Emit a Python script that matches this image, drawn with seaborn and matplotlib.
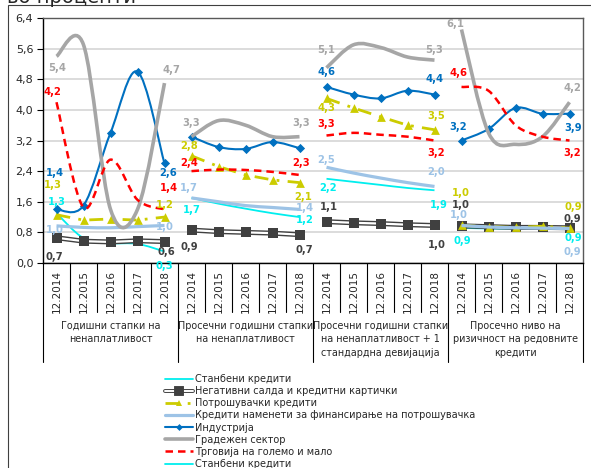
import numpy as np
import matplotlib
matplotlib.use("Agg")
import matplotlib.pyplot as plt
import matplotlib.patheffects as pe
import matplotlib.transforms as mtransforms
from matplotlib.path import Path
from matplotlib.patches import PathPatch, Rectangle
from matplotlib.lines import Line2D
import seaborn as sns

# --- data ---
years = ["12.2014", "12.2015", "12.2016", "12.2017", "12.2018"]
groups = ["Годишни стапки на\nненаплатливост",
          "Просечни годишни стапки\nна ненаплатливост",
          "Просечни годишни стапки\nна ненаплатливост + 1\nстандардна девијација",
          "Просечно ниво на\nризичност на редовните\nкредити"]

housing = [1.3, 0.65, 0.52, 0.5, 0.3,
           1.7, 1.55, 1.42, 1.3, 1.2,
           2.2, 2.12, 2.04, 1.96, 1.9,
           0.92, 0.9, 0.9, 0.9, 0.9]
negative = [0.66, 0.57, 0.55, 0.58, 0.56,
            0.86, 0.82, 0.8, 0.78, 0.74,
            1.08, 1.05, 1.03, 1.0, 0.98,
            0.97, 0.95, 0.93, 0.93, 0.92]
consumer = [1.26, 1.12, 1.15, 1.12, 1.2,
            2.8, 2.52, 2.3, 2.17, 2.1,
            4.3, 4.05, 3.82, 3.6, 3.48,
            0.98, 0.95, 0.93, 0.96, 0.91]
fin_consumer = [0.97, 0.93, 0.92, 0.95, 0.98,
                1.7, 1.6, 1.5, 1.45, 1.4,
                2.5, 2.35, 2.22, 2.1, 2.0,
                0.98, 0.94, 0.92, 0.91, 0.9]
industry = [1.4, 1.5, 3.4, 5.0, 2.6,
            3.3, 3.03, 2.98, 3.16, 3.0,
            4.6, 4.4, 4.3, 4.5, 4.4,
            3.2, 3.5, 4.05, 3.9, 3.9]
construction = [5.4, 5.7, 1.4, 1.4, 4.7,
                3.3, 3.72, 3.6, 3.3, 3.3,
                5.1, 5.7, 5.63, 5.38, 5.3,
                6.1, 3.4, 3.1, 3.3, 4.2]
trade = [4.2, 1.45, 2.7, 1.65, 1.4,
         2.4, 2.44, 2.43, 2.38, 2.3,
         3.33, 3.4, 3.35, 3.3, 3.2,
         4.6, 4.5, 3.6, 3.3, 3.2]

legend_names = ["Станбени кредити", "Негативни салда и кредитни картички",
                "Потрошувачки кредити", "Кредити наменети за финансирање на потрошувачка",
                "Индустрија", "Градежен сектор", "Трговија на големо и мало",
                "Станбени кредити"]

CYAN, DARK, YEL, LBLUE, BLUE, GRAY, RED = ("#00EEEE", "#404040", "#CCCC00",
                                           "#9DC3E6", "#0070C0", "#A6A6A6", "#FF0000")

# label offsets in pixels (dx, dy downward) for first / last point of each group
offsets = {
    "housing": [(0, -11, 0, 14), (0, 12, 5, 3), (2, 9, 4, 15), (1, 13, 4, 9)],
    "negative": [(-2, 19, 2, 10), (-2, 17, 5, 15), (2, -15, 2, 20), (-1, -21, 3, -9)],
    "consumer": [(-4, -30, 0, -12), (-2, -10, 4, 14), (0, 10, 2, -14), (-1, -32, 4, -21)],
    "fin_consumer": [(-2, 4, 0, 2), (-3, -10, 5, -1), (0, -7, 2, -14), (-3, -10, 3, 23)],
    "industry": [(-2, -36, 4, 10), None, (0, -15, 0, -16), (-3, -13, 4, 14)],
    "construction": [(1, 12, 7, -13), (0, -14, 2, -14), (0, -18, 0, -10), (-6, -5, 3, -14)],
    "trade": [(-4, -10, 4, -21), (-2, -8, 2, -12), (0, -12, 2, 12), (-3, -14, 3, 13)],
}


def smooth_path(xs, ys):
    pts = np.column_stack([xs, ys]).astype(float)
    n = len(pts)
    verts, codes = [pts[0]], [Path.MOVETO]
    for i in range(n - 1):
        p0 = pts[i - 1] if i > 0 else pts[i]
        p1, p2 = pts[i], pts[i + 1]
        p3 = pts[i + 2] if i + 2 < n else pts[i + 1]
        verts += [p1 + (p2 - p0) / 6, p2 - (p3 - p1) / 6, p2]
        codes += [Path.CURVE4] * 3
    return Path(verts, codes)


sns.set_style("white")
plt.rcParams["font.family"] = ["DejaVu Sans"]

fig = plt.figure(figsize=(5.91, 4.68), dpi=100)
ax = fig.add_axes([43 / 591, 1 - 263 / 468, 540 / 591, 245 / 468])

x = np.arange(20)


def draw_smooth(vals, color, lw, ls="-", z=2):
    for g in range(4):
        sl = slice(5 * g, 5 * g + 5)
        ax.add_patch(PathPatch(smooth_path(x[sl], np.array(vals)[sl]), facecolor="none",
                               edgecolor=color, lw=lw, linestyle=ls, zorder=z,
                               capstyle="butt"))


draw_smooth(housing, CYAN, 1.3, z=3)
for g in range(4):
    sl = slice(5 * g, 5 * g + 5)
    sns.lineplot(x=x[sl], y=np.array(negative)[sl], ax=ax, color="white", lw=1.6, zorder=4,
                 path_effects=[pe.Stroke(linewidth=3.6, foreground=DARK), pe.Normal()])
    sns.lineplot(x=x[sl], y=np.array(consumer)[sl], ax=ax, color=YEL, lw=2.0, zorder=5,
                 linestyle=(0, (5, 3, 1, 3)))
sns.scatterplot(x=x, y=negative, ax=ax, color=DARK, marker="s", s=50, linewidth=0, zorder=4.5)
sns.scatterplot(x=x, y=consumer, ax=ax, color=YEL, marker="^", s=40, linewidth=0, zorder=5.5)
draw_smooth(fin_consumer, LBLUE, 2.3, z=6)
draw_smooth(industry, BLUE, 1.5, z=7)
sns.scatterplot(x=x, y=industry, ax=ax, color=BLUE, marker="D", s=22, linewidth=0, zorder=7.5)
draw_smooth(construction, GRAY, 2.6, z=8)
draw_smooth(trade, RED, 1.8, ls=(0, (3, 2)), z=9)

series = [("housing", housing, CYAN), ("negative", negative, DARK), ("consumer", consumer, YEL),
          ("fin_consumer", fin_consumer, LBLUE), ("industry", industry, BLUE),
          ("construction", construction, GRAY), ("trade", trade, RED)]
for name, vals, col in series:
    for g in range(4):
        off = offsets[name][g]
        if off is None:
            continue
        for idx, (dx, dy) in ((5 * g, off[:2]), (5 * g + 4, off[2:])):
            ax.annotate(f"{vals[idx]:.1f}".replace(".", ","), (x[idx], vals[idx]),
                        xytext=(dx, -dy), textcoords="offset pixels", ha="center",
                        va="center", fontsize=7.2, fontweight="bold", color=col,
                        zorder=20, annotation_clip=False)

ax.set_xlim(-0.5, 19.5)
ax.set_ylim(0, 6.4)
yt = np.arange(0, 6.41, 0.8)
ax.set_yticks(yt)
ax.set_yticklabels([f"{v:.1f}".replace(".", ",") for v in yt], fontsize=8)
ax.set_xticks(x)
ax.set_xticklabels(years * 4, rotation=90, fontsize=7.5, va="top")
ax.tick_params(axis="x", length=0, pad=5)
ax.tick_params(axis="y", length=4, width=0.8, color="black", left=True, pad=3)
ax.yaxis.grid(True, color="#d9d9d9", lw=1.3)
ax.set_axisbelow(True)
ax.set_xlabel("")
ax.set_ylabel("")
for s in ["top", "right"]:
    ax.spines[s].set_color("#595959")
    ax.spines[s].set_linewidth(1.0)
for s in ["left", "bottom"]:
    ax.spines[s].set_color("black")
    ax.spines[s].set_linewidth(1.0)

# category axis ticks and group boundaries
blend = mtransforms.blended_transform_factory(ax.transData, ax.transAxes)
for b in np.arange(-0.5, 20, 1.0):
    depth = -0.405 if b in (-0.5, 4.5, 9.5, 14.5, 19.5) else -0.2
    ax.plot([b, b], [0, depth], transform=blend, clip_on=False, color="black", lw=0.8)
for g, lab in enumerate(groups):
    ax.text(5 * g + 2, -0.235, lab, transform=blend, ha="center", va="top",
            fontsize=6.9, linespacing=1.45)

# chart frame and cut-off title
fig.add_artist(Rectangle((8 / 591, -0.05), 1.2, 1.05 - 5 / 468, transform=fig.transFigure,
                         fill=False, edgecolor="#404040", lw=0.8))
fig.text(0.012, 1 - 3 / 468, "во проценти", fontsize=14, va="baseline")

handles = [
    Line2D([], [], color=CYAN, lw=1.3),
    Line2D([], [], color="white", lw=1.4, marker="s", markersize=4, markerfacecolor=DARK,
           markeredgecolor=DARK,
           path_effects=[pe.Stroke(linewidth=2.8, foreground=DARK), pe.Normal()]),
    Line2D([], [], color=YEL, lw=2.0, linestyle=(0, (5, 3, 1, 3)), marker="^", markersize=4,
           markeredgewidth=0),
    Line2D([], [], color=LBLUE, lw=2.3),
    Line2D([], [], color=BLUE, lw=1.5, marker="D", markersize=3.5, markeredgewidth=0),
    Line2D([], [], color=GRAY, lw=2.6),
    Line2D([], [], color=RED, lw=1.8, linestyle=(0, (3, 2))),
    Line2D([], [], color=CYAN, lw=1.3),
]
fig.legend(handles, legend_names, loc="upper left", bbox_to_anchor=(165 / 591, 1 - 374 / 468),
           frameon=False, fontsize=7, handlelength=2.9, handletextpad=0.15,
           labelspacing=0.22, borderaxespad=0, borderpad=0)

fig.savefig("out.png", dpi=100)
